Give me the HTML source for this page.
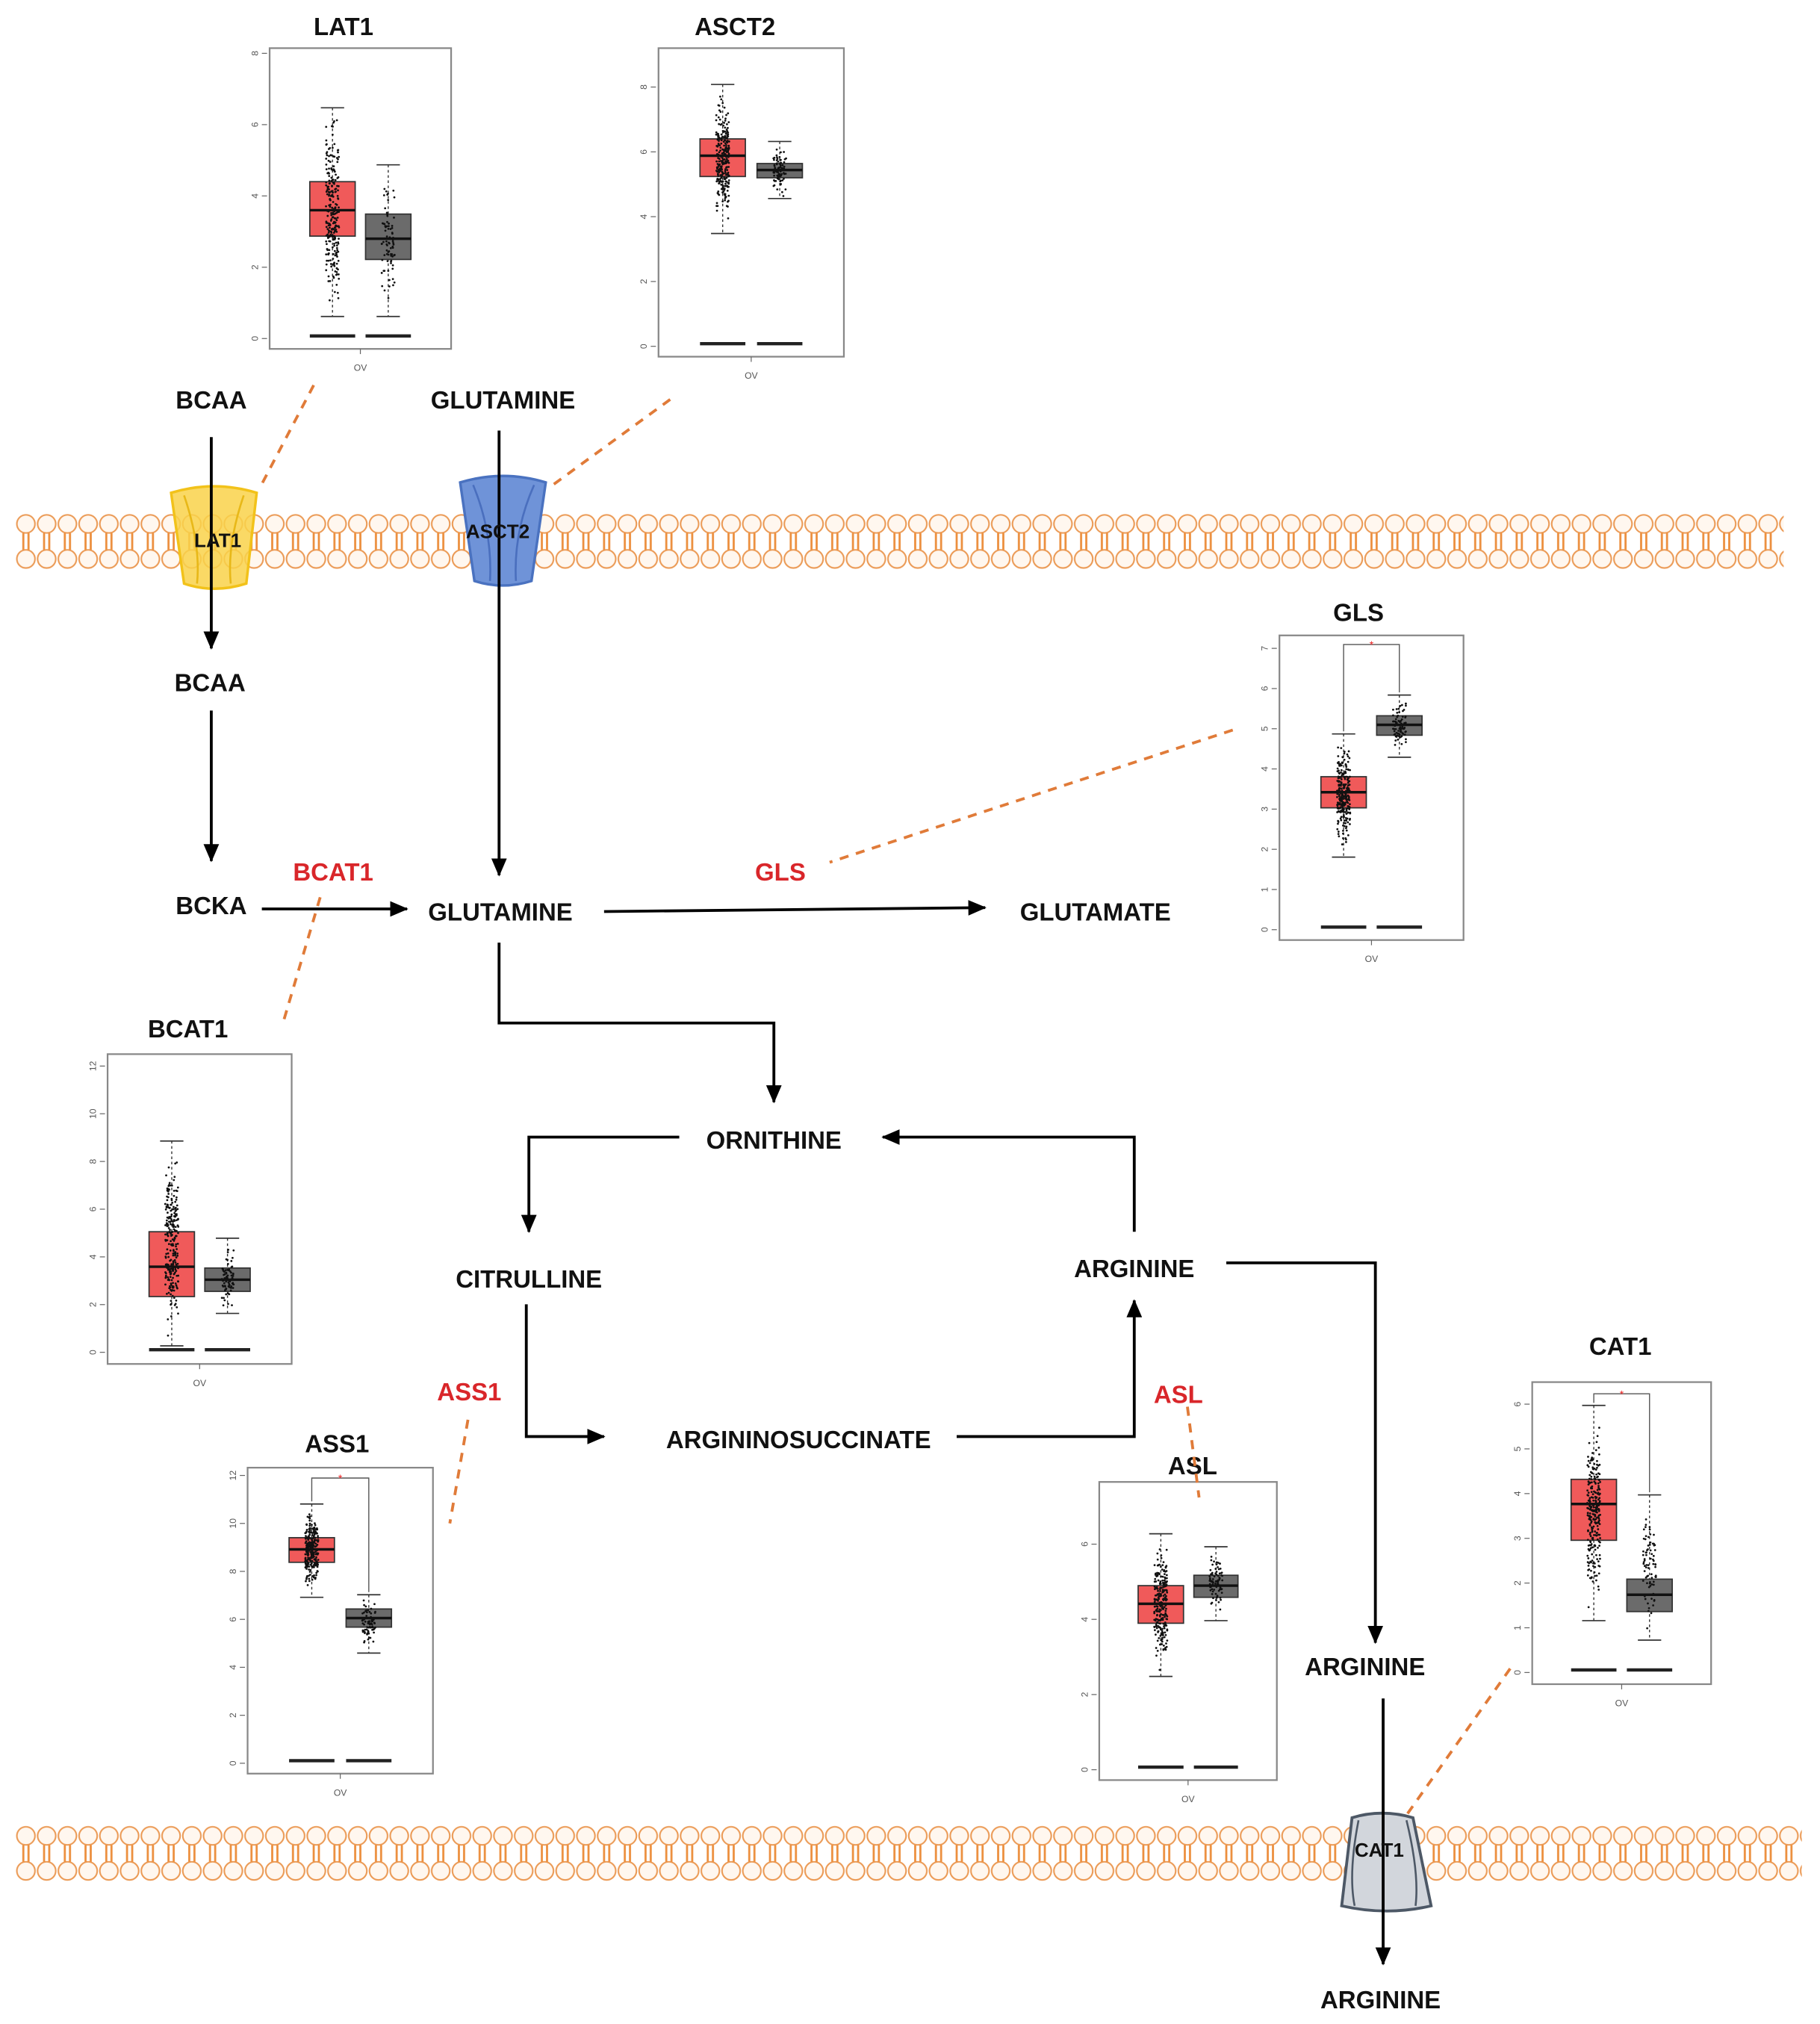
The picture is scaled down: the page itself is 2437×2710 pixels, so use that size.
<!DOCTYPE html>
<html><head><meta charset="utf-8"><style>
html,body{margin:0;padding:0;background:#fff}
svg{display:block}
.t{font-family:"Liberation Sans",sans-serif;font-weight:bold;font-size:19px;text-anchor:middle;fill:#111}
.r{fill:#d9262a}
.ax{font-family:"Liberation Sans",sans-serif;font-size:7px;fill:#555;text-anchor:middle}
.ar{stroke:#000;stroke-width:2.2;fill:none}
.ds{stroke:#e07b39;stroke-width:2.2;stroke-dasharray:7,6;fill:none}
</style></head><body>
<svg id="s" width="2437" height="2710" viewBox="0 0 1404 1561" xmlns="http://www.w3.org/2000/svg">
<defs>
<marker id="b" markerWidth="14" markerHeight="12" refX="13" refY="6" orient="auto" markerUnits="userSpaceOnUse"><path d="M0,0 L14,6 L0,12 z" fill="#000"/></marker>
<pattern id="mem" x="12" y="0" width="16" height="60" patternUnits="userSpaceOnUse">
<circle cx="8" cy="8" r="7" fill="#fff7ef" stroke="#eb9a55" stroke-width="1.2"/>
<circle cx="8" cy="35" r="7" fill="#fff7ef" stroke="#eb9a55" stroke-width="1.2"/>
<path d="M6,15 V28 M10,15 V28" stroke="#ec8f3e" stroke-width="1.6"/>
</pattern>
</defs>
<rect width="1404" height="1561" fill="#fff"/>
<g transform="translate(0,396)"><rect x="12" y="0" width="1364" height="43" fill="url(#mem)"/></g>
<g transform="translate(0,1408)"><rect x="12" y="0" width="1378" height="43" fill="url(#mem)"/></g>

<g id="plots"></g>

<path class="ds" d="M242,297 L200,377"/>
<path class="ds" d="M517,308 L425,375"/>
<path class="ds" d="M951,563 L640,665"/>
<path class="ds" d="M247,692 L218,790"/>
<path class="ds" d="M361,1095 L347,1175"/>
<path class="ds" d="M916,1085 L925,1155"/>
<path class="ds" d="M1165,1287 L1085,1400"/>

<g>
<path d="M132,380 Q165,370 198,380 L190,450 Q165,458 142,450 Z" fill="#f9d24a" fill-opacity=".85" stroke="#f2c21a" stroke-width="2"/>
<path d="M142,382 Q155,420 152,450 M188,382 Q175,420 178,450" stroke="#e8b818" stroke-width="1.5" fill="none"/>
<path d="M355,372 Q388,362 421,372 L410,448 Q388,455 366,448 Z" fill="#6f93d8" stroke="#4a72c0" stroke-width="2"/>
<path d="M365,374 Q380,410 378,448 M412,374 Q396,410 398,448" stroke="#4a6fbe" stroke-width="1.5" fill="none"/>
<path d="M1043,1402 Q1066,1395 1090,1402 L1104,1470 Q1070,1478 1035,1470 Z" fill="#d2d6dc" stroke="#4d5866" stroke-width="2.2"/>
<path d="M1048,1404 Q1040,1445 1045,1470 M1085,1404 Q1095,1445 1092,1470" stroke="#4d5866" stroke-width="1.5" fill="none"/>
</g>

<path class="ar" d="M163,337 V500" marker-end="url(#b)"/>
<path class="ar" d="M163,548 V664" marker-end="url(#b)"/>
<path class="ar" d="M202,701 H314" marker-end="url(#b)"/>
<path class="ar" d="M385,332 V675" marker-end="url(#b)"/>
<path class="ar" d="M466,703 L760,700" marker-end="url(#b)"/>
<path class="ar" d="M385,727 V789 H597 V850" marker-end="url(#b)"/>
<path class="ar" d="M524,877 H408 V950" marker-end="url(#b)"/>
<path class="ar" d="M406,1006 V1108 H466" marker-end="url(#b)"/>
<path class="ar" d="M738,1108 H875 V1003" marker-end="url(#b)"/>
<path class="ar" d="M875,950 V877 H681" marker-end="url(#b)"/>
<path class="ar" d="M946,974 H1061 V1267" marker-end="url(#b)"/>
<path class="ar" d="M1067,1310 V1515" marker-end="url(#b)"/>

<text class="t" x="163" y="315">BCAA</text>
<text class="t" x="388" y="315">GLUTAMINE</text>
<text class="t" x="162" y="533">BCAA</text>
<text class="t" x="163" y="705">BCKA</text>
<text class="t r" x="257" y="679">BCAT1</text>
<text class="t" x="386" y="710">GLUTAMINE</text>
<text class="t r" x="602" y="679">GLS</text>
<text class="t" x="845" y="710">GLUTAMATE</text>
<text class="t" x="597" y="886">ORNITHINE</text>
<text class="t" x="408" y="993">CITRULLINE</text>
<text class="t" x="875" y="985">ARGININE</text>
<text class="t r" x="362" y="1080">ASS1</text>
<text class="t" x="616" y="1117">ARGININOSUCCINATE</text>
<text class="t r" x="909" y="1082">ASL</text>
<text class="t" x="1053" y="1292">ARGININE</text>
<text class="t" x="1065" y="1549">ARGININE</text>
<text class="t" x="168" y="422" style="font-size:15px">LAT1</text>
<text class="t" x="384" y="415" style="font-size:15px">ASCT2</text>
<text class="t" x="1064" y="1432" style="font-size:15px">CAT1</text>
</svg>
<script>
var P=[
{n:"LAT1",x0:208,x1:348,y0:37,y1:269,tx:265,ty:27,t0:261,dt:-55,nt:5,tl:2,r:[239,274,140,182,162,83,244],g:[282,317,165,200,184,127,244],br:0},
{n:"ASCT2",x0:508,x1:651,y0:37,y1:275,tx:567,ty:27,t0:267,dt:-50,nt:5,tl:2,r:[540,575,107,136,120,65,180],g:[584,619,126,137,131,109,153],br:0},
{n:"GLS",x0:987,x1:1129,y0:490,y1:725,tx:1048,ty:479,t0:717,dt:-31,nt:8,tl:1,r:[1019,1054,599,623,611,566,661],g:[1062,1097,552,567,559,536,584],br:497},
{n:"BCAT1",x0:83,x1:225,y0:813,y1:1052,tx:145,ty:800,t0:1043,dt:-36.8,nt:7,tl:2,r:[115,150,950,1000,977,880,1038],g:[158,193,978,996,987,955,1013],br:0},
{n:"ASS1",x0:191,x1:334,y0:1132,y1:1368,tx:260,ty:1120,t0:1360,dt:-37,nt:7,tl:2,r:[223,258,1186,1205,1195,1160,1232],g:[267,302,1241,1255,1248,1230,1275],br:1140},
{n:"ASL",x0:848,x1:985,y0:1143,y1:1373,tx:920,ty:1137,t0:1365,dt:-58,nt:4,tl:2,r:[878,913,1223,1252,1237,1183,1293],g:[921,955,1215,1232,1223,1193,1250],br:0},
{n:"CAT1",x0:1182,x1:1320,y0:1066,y1:1299,tx:1250,ty:1045,t0:1290,dt:-34.5,nt:7,tl:1,r:[1212,1247,1141,1188,1160,1084,1250],g:[1255,1290,1218,1243,1230,1153,1265],br:1075}];
var seed=7;function rnd(){seed=(seed*16807)%2147483647;return seed/2147483647;}
var h="";
function box(b,fill,n){var cx=(b[0]+b[1])/2;
h+='<line x1="'+cx+'" y1="'+b[5]+'" x2="'+cx+'" y2="'+b[6]+'" stroke="#333" stroke-width="0.8" stroke-dasharray="2,2"/>';
h+='<line x1="'+(cx-9)+'" y1="'+b[5]+'" x2="'+(cx+9)+'" y2="'+b[5]+'" stroke="#333"/><line x1="'+(cx-9)+'" y1="'+b[6]+'" x2="'+(cx+9)+'" y2="'+b[6]+'" stroke="#333"/>';
h+='<rect x="'+b[0]+'" y="'+b[2]+'" width="'+(b[1]-b[0])+'" height="'+(b[3]-b[2])+'" fill="'+fill+'" stroke="#333" stroke-width="1"/>';
for(var i=0;i<n;i++){var u=(rnd()+rnd()+rnd())/3;var y=b[5]+(b[6]-b[5])*u;var x=cx+(rnd()-0.5)*10;h+='<circle cx="'+x.toFixed(1)+'" cy="'+y.toFixed(1)+'" r="0.8" fill="#111"/>';}
h+='<line x1="'+b[0]+'" y1="'+b[4]+'" x2="'+b[1]+'" y2="'+b[4]+'" stroke="#111" stroke-width="2"/>';}
P.forEach(function(p){
h+='<text class="t" x="'+p.tx+'" y="'+p.ty+'">'+p.n+'</text>';
h+='<rect x="'+p.x0+'" y="'+p.y0+'" width="'+(p.x1-p.x0)+'" height="'+(p.y1-p.y0)+'" fill="#fff" stroke="#888" stroke-width="1.3"/>';
for(var i=0;i<p.nt;i++){var y=p.t0+p.dt*i;h+='<line x1="'+(p.x0-6)+'" y1="'+y+'" x2="'+(p.x0-2)+'" y2="'+y+'" stroke="#666" stroke-width=".7"/><text class="ax" transform="translate('+(p.x0-11)+','+y+') rotate(-90)" y="2">'+(i*p.tl)+'</text>';}
box(p.r,"#f05a5a",260);box(p.g,"#6b6b6b",80);
var by=p.t0-2;h+='<line x1="'+p.r[0]+'" y1="'+by+'" x2="'+p.r[1]+'" y2="'+by+'" stroke="#222" stroke-width="2.5"/><line x1="'+p.g[0]+'" y1="'+by+'" x2="'+p.g[1]+'" y2="'+by+'" stroke="#222" stroke-width="2.5"/>';
var mx=(p.x0+p.x1)/2;h+='<line x1="'+mx+'" y1="'+p.y1+'" x2="'+mx+'" y2="'+(p.y1+4)+'" stroke="#666" stroke-width=".7"/><text class="ax" x="'+mx+'" y="'+(p.y1+17)+'">OV</text>';
if(p.br){var a=(p.r[0]+p.r[1])/2,c=(p.g[0]+p.g[1])/2;h+='<path d="M'+a+','+(p.r[5]-2)+' V'+p.br+' H'+c+' V'+(p.g[5]-2)+'" stroke="#555" stroke-width=".8" fill="none"/><text x="'+((a+c)/2)+'" y="'+(p.br+3)+'" font-size="8" fill="#e22" text-anchor="middle" font-family="Liberation Sans">*</text>';}
});
document.getElementById("plots").innerHTML=h;
</script>
</body></html>
